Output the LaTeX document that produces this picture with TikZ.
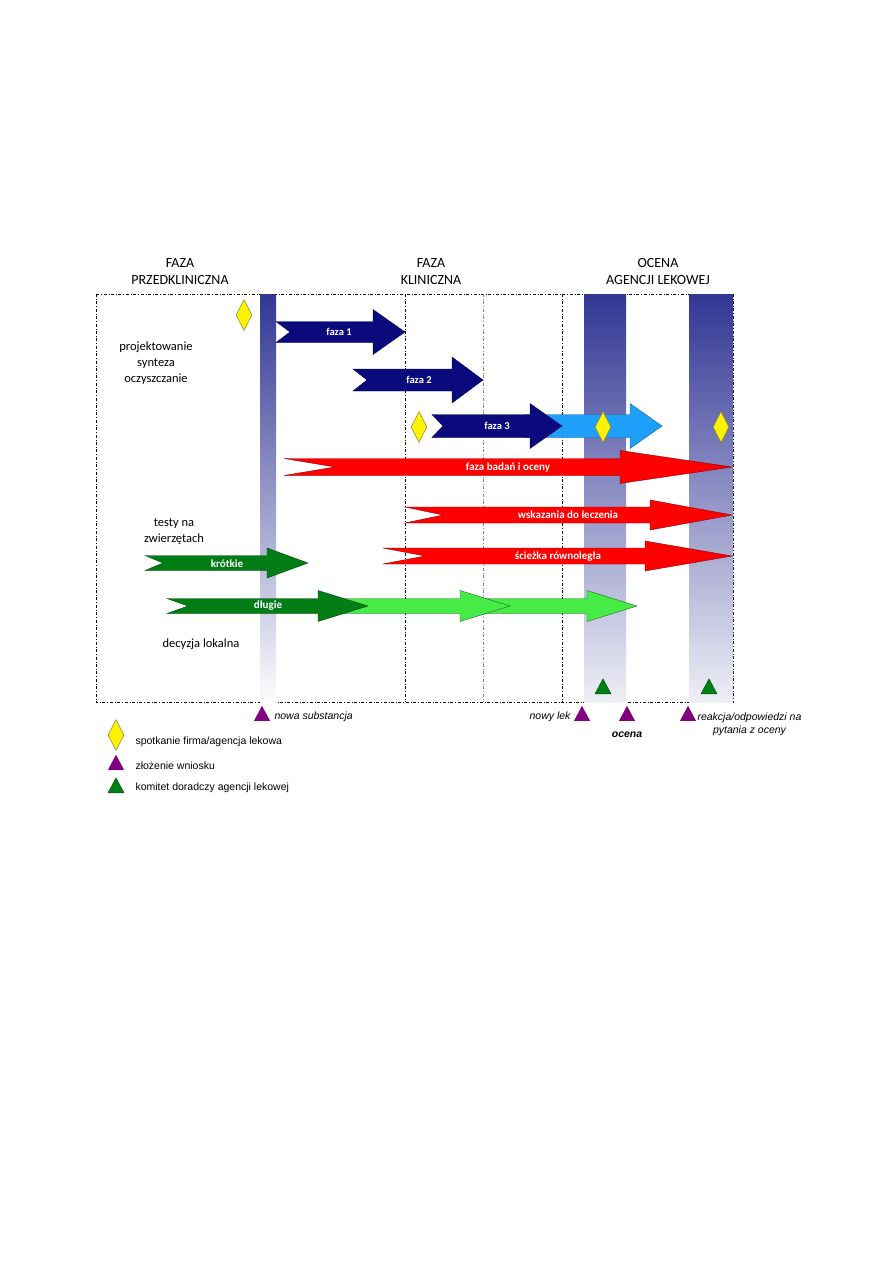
\documentclass[tikz,border=0pt]{standalone}
\usepackage{fontspec}
\setmainfont{Carlito}
\newfontfamily\legendfont{Liberation Sans}
\usepackage{tikz}
\usetikzlibrary{shapes.geometric}
\definecolor{navyarr}{RGB}{10,10,125}
\definecolor{skyarr}{RGB}{30,160,250}
\definecolor{redarr}{RGB}{255,0,0}
\definecolor{darkgreenarr}{RGB}{0,125,20}
\definecolor{lightgreenarr}{RGB}{70,235,70}
\definecolor{bandblue}{RGB}{50,55,148}
\definecolor{markpurple}{RGB}{128,0,128}
\definecolor{markgreen}{RGB}{0,128,20}
\tikzset{
  framebox/.style={dash dot, line width=0.6pt},
  phaseline/.style={dash dot, line width=0.6pt},
  navyblk/.style={fill=navyarr, draw=navyarr!60!black, line width=0.4pt},
  skyblk/.style={fill=skyarr, draw=skyarr!60!black, line width=0.4pt},
  redblk/.style={fill=redarr, draw=redarr!55!black, line width=0.4pt},
  darkgreenblk/.style={fill=darkgreenarr, draw=darkgreenarr!60!black, line width=0.4pt},
  lightgreenblk/.style={fill=lightgreenarr, draw=lightgreenarr!45!black, line width=0.4pt},
  arrlabel/.style={text=white, font=\bfseries\fontsize{10.5}{12}\selectfont},
  headtext/.style={align=center, font=\fontsize{14}{17}\selectfont},
  bodytext/.style={align=center, font=\fontsize{12.5}{16}\selectfont},
  meetmark/.style={diamond, draw=yellow!45!black, fill=yellow, line width=0.5pt,
    minimum width=16pt, minimum height=31pt, inner sep=0pt},
  filemark/.style={isosceles triangle, isosceles triangle stretches,
    shape border rotate=90, fill=markpurple, minimum width=16pt,
    minimum height=15pt, inner sep=0pt},
  advicemark/.style={isosceles triangle, isosceles triangle stretches,
    shape border rotate=90, fill=markgreen, draw=markgreen!60!black,
    minimum width=16pt, minimum height=15pt, inner sep=0pt},
  marktext/.style={font=\legendfont\itshape\fontsize{10.5}{12}\selectfont},
  legendtext/.style={anchor=west, font=\legendfont\fontsize{10.5}{12}\selectfont},
}
% block arrow: style, tail x, notch x, head x, tip x, mid y, shaft half, head half
\newcommand{\blockarrow}[8]{%
  \draw[#1] (#2,#6-#7) -- (#4,#6-#7) -- (#4,#6-#8) -- (#5,#6)
    -- (#4,#6+#8) -- (#4,#6+#7) -- (#2,#6+#7) -- (#3,#6) -- cycle;}

\begin{document}
\begin{tikzpicture}[x=1pt, y=-1pt]
  \useasboundingbox (0,0) rectangle (893,1263);

  % frame and phase lines
  \draw[framebox] (96,294) rectangle (733,702);
  \draw[phaseline] (405,294) -- (405,702);
  \draw[phaseline, gray] (483,294) -- (483,702);
  \draw[phaseline] (562,294) -- (562,702);

  % agency bands
  \shade[top color=bandblue, bottom color=white] (260,294) rectangle (276,706);
  \shade[top color=bandblue, bottom color=bandblue!8] (584,294) rectangle (626,702);
  \shade[top color=bandblue, bottom color=bandblue!8] (689,294) rectangle (733,702);

  % headers
  \node[headtext] (hpre) at (180,272) {FAZA\\PRZEDKLINICZNA};
  \node[headtext] (hkli) at (431,272) {FAZA\\KLINICZNA};
  \node[headtext] (hage) at (658,272) {OCENA\\AGENCJI LEKOWEJ};

  \node[bodytext] (design) at (156,363) {projektowanie\\synteza\\oczyszczanie};
  \node[bodytext] (animal) at (174,532) {testy na\\zwierzętach};
  \node[bodytext] (local) at (201,644) {decyzja lokalna};

  % clinical phases
  \blockarrow{navyblk}{276}{290}{373}{405}{332}{10.5}{22.5}
  \node[arrlabel] (f1) at (339,332) {faza 1};
  \blockarrow{navyblk}{353}{367}{452}{483}{380}{11}{23}
  \node[arrlabel] (f2) at (419,380) {faza 2};
  \blockarrow{skyblk}{525}{525}{630}{662}{426}{11.5}{22.5}
  \blockarrow{navyblk}{432}{443}{530}{562}{426}{11.5}{22.5}
  \node[arrlabel] (f3) at (497,426) {faza 3};

  % research tracks
  \blockarrow{redblk}{284}{335}{620}{732}{467}{8.5}{16.5}
  \node[arrlabel, font=\bfseries\fontsize{11}{12}\selectfont] (research) at (508,467) {faza badań i oceny};
  \blockarrow{redblk}{405}{443}{650}{732}{515}{8}{15}
  \node[arrlabel, font=\bfseries\fontsize{11}{12}\selectfont] (indic) at (568,515) {wskazania do leczenia};
  \blockarrow{redblk}{383}{425}{645}{732}{556}{8}{15}
  \node[arrlabel, font=\bfseries\fontsize{11}{12}\selectfont] (parallel) at (558,557) {ścieżka równoległa};

  % animal tests
  \blockarrow{darkgreenblk}{145}{163}{267}{308}{563}{7.5}{15}
  \node[arrlabel, font=\bfseries\fontsize{11}{12}\selectfont] (short) at (227,564) {krótkie};
  \blockarrow{lightgreenblk}{483}{483}{587}{637}{606}{7.5}{15.5}
  \blockarrow{lightgreenblk}{340}{340}{460}{510}{606}{7.5}{15.5}
  \blockarrow{darkgreenblk}{167}{188}{318}{368}{606}{7.5}{15.5}
  \node[arrlabel, font=\bfseries\fontsize{11}{12}\selectfont] (long) at (268,606) {długie};

  % meetings
  \node[meetmark] (m1) at (244,315) {};
  \node[meetmark] (m2) at (419,427) {};
  \node[meetmark] (m3) at (603,427) {};
  \node[meetmark] (m4) at (721,427) {};

  % advisory committee
  \node[advicemark] (a1) at (603,689) {};
  \node[advicemark] (a2) at (709,689) {};

  % submissions
  \node[filemark] (s1) at (262,716) {};
  \node[marktext, anchor=west] (s1t) at (271,717) {nowa substancja};
  \node[filemark] (s2) at (582,716) {};
  \node[marktext, anchor=east] (s2t) at (574,717) {nowy lek};
  \node[filemark] (s3) at (627,716) {};
  \node[marktext, font=\legendfont\bfseries\itshape\fontsize{10.5}{12}\selectfont] (s3t) at (627,735) {ocena};
  \node[filemark] (s4) at (688,716) {};
  \node[marktext, anchor=west, align=center, font=\legendfont\itshape\fontsize{10.5}{13}\selectfont] (s4t) at (694,724) {reakcja/odpowiedzi na\\pytania z oceny};

  % legend
  \node[meetmark] (lg1) at (116,735) {};
  \node[legendtext] (lg1t) at (132,742) {spotkanie firma/agencja lekowa};
  \node[filemark] (lg2) at (116,765) {};
  \node[legendtext] (lg2t) at (132,766) {złożenie wniosku};
  \node[advicemark] (lg3) at (116,788) {};
  \node[legendtext] (lg3t) at (132,788) {komitet doradczy agencji lekowej};
\end{tikzpicture}
\end{document}
